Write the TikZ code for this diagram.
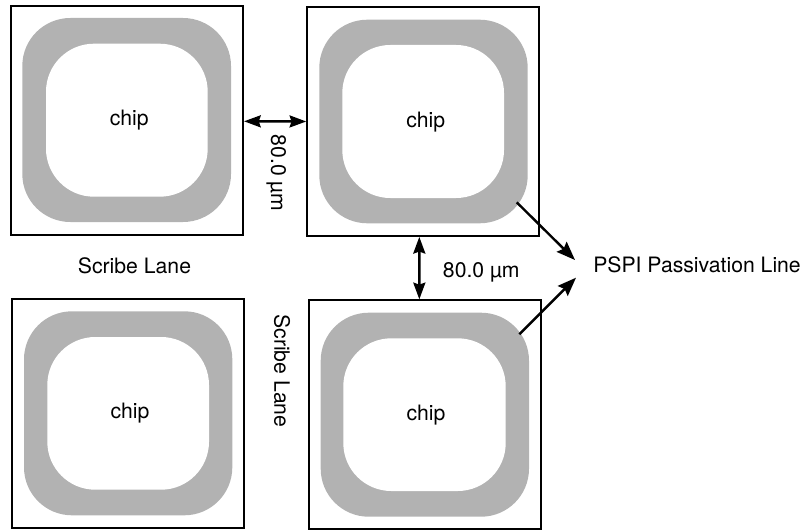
\documentclass[tikz,border=0pt]{standalone}
\usepackage{fontspec}
\setmainfont{TeX Gyre Heros}
\usetikzlibrary{arrows.meta}
\definecolor{passgray}{gray}{0.7}
\tikzset{
	chipbox/.style={draw, line width=1.6pt, minimum width=174pt, minimum height=171.5pt, inner sep=0pt},
	passline/.style={fill=passgray, rounded corners=36pt},
	chiparea/.style={fill=white, rounded corners=36pt},
	lbl/.style={font=\fontsize{15.9}{18}\selectfont, inner sep=0pt, anchor=base},
	gaparrow/.style={{Stealth[length=12.5pt,width=9pt,inset=1.5pt]}-{Stealth[length=12.5pt,width=9pt,inset=1.5pt]}, line width=1.8pt},
	linearrow/.style={-{Stealth[length=14pt,width=10.5pt,inset=2pt]}, line width=1.8pt}
}
\begin{document}
\begin{tikzpicture}[x=0.75pt, y=-0.75pt]
	\useasboundingbox ( 0, 0 ) rectangle ( 809, 531 );

	% chip top left
	\fill [passline] ( 22.3, 18 ) rectangle ( 231, 222 );
	\fill [chiparea] ( 46, 43.7 ) rectangle ( 207.7, 196.7 );
	\node (boxa) [chipbox] at ( 127, 120.3 ) {};
	\node (chipa) [lbl] at ( 129.2, 125.6 ) {chip};

	% chip top right
	\fill [passline] ( 319.3, 19.7 ) rectangle ( 527.7, 223.3 );
	\fill [chiparea] ( 342.3, 45 ) rectangle ( 504, 198 );
	\node (boxb) [chipbox] at ( 423.3, 121.5 ) {};
	\node (chipb) [lbl] at ( 425.7, 127.2 ) {chip};

	% chip bottom left
	\fill [passline] ( 24, 311.3 ) rectangle ( 232.3, 515.3 );
	\fill [chiparea] ( 47.3, 337 ) rectangle ( 209, 489.7 );
	\node (boxc) [chipbox] at ( 128, 413.3 ) {};
	\node (chipc) [lbl] at ( 130, 418.6 ) {chip};

	% chip bottom right
	\fill [passline] ( 320.7, 312.7 ) rectangle ( 529, 516.7 );
	\fill [chiparea] ( 343.3, 338.3 ) rectangle ( 505.7, 491 );
	\node (boxd) [chipbox] at ( 424.8, 414.7 ) {};
	\node (chipd) [lbl] at ( 426, 420.6 ) {chip};

	% gaps between the chips
	\draw [gaparrow] ([yshift=-0.75pt]boxa.east) -- (boxb.west);
	\draw [gaparrow] ([xshift=-3pt]boxb.south) -- ([xshift=-4.1pt]boxd.north);
	\node (gapa) [lbl, rotate=-90] at ( 271, 173 ) {80.0 µm};
	\node (gapb) [lbl, anchor=base west] at ( 442.7, 277.5 ) {80.0 µm};

	% scribe lanes
	\node (lanea) [lbl] at ( 134.5, 273.5 ) {Scribe Lane};
	\node (laneb) [lbl, rotate=-90] at ( 274.3, 371 ) {Scribe Lane};

	% passivation line
	\node (pspi) [lbl, anchor=base west] at ( 593, 272.8 ) {PSPI Passivation Line};
	\coordinate (linea) at ( 516.7, 202.3 );
	\coordinate (lineb) at ( 519.3, 334.3 );
	\coordinate (tipa) at ( 575, 260 );
	\coordinate (tipb) at ( 576, 277.7 );
	\draw [linearrow] (linea) -- (tipa);
	\draw [linearrow] (lineb) -- (tipb);
\end{tikzpicture}
\end{document}
